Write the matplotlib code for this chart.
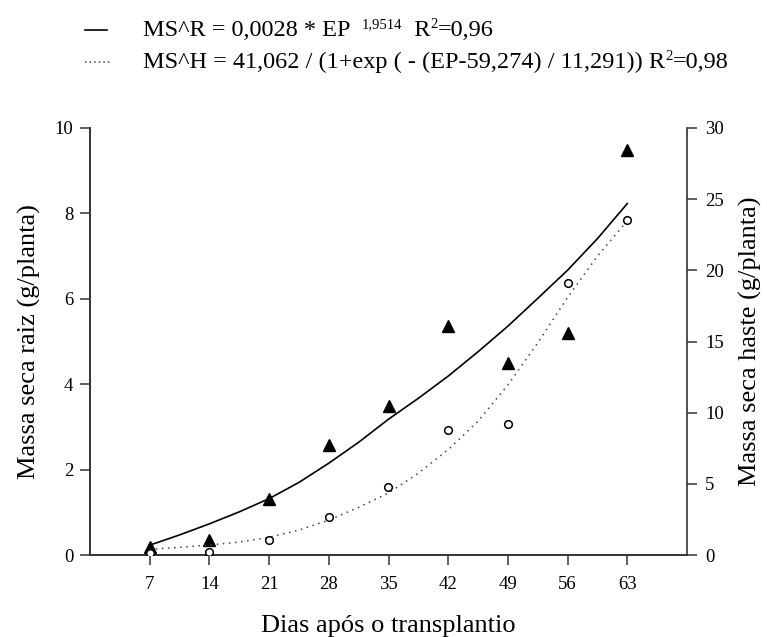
import numpy as np
import matplotlib.pyplot as plt
from matplotlib.lines import Line2D

plt.rcParams['font.family'] = 'Liberation Serif'

dias = [7, 14, 21, 28, 35, 42, 49, 56, 63]

# massa seca raiz (eixo esquerdo) - triangulos
raiz = [0.19, 0.35, 1.32, 2.57, 3.50, 5.37, 4.49, 5.19, 9.48]
# massa seca haste (eixo direito) - circulos
haste = [0.12, 0.23, 1.05, 2.69, 4.79, 8.81, 9.23, 19.14, 23.53]

dias_curva = [7, 10.5, 14, 17.5, 21, 24.5, 28, 31.5, 35, 38.5, 42, 45.5, 49, 52.5, 56, 59.5, 63]
raiz_ajuste = [0.23, 0.47, 0.73, 1.01, 1.32, 1.70, 2.15, 2.64, 3.18, 3.67, 4.19,
               4.76, 5.36, 6.01, 6.67, 7.41, 8.23]
haste_ajuste = [0.40, 0.54, 0.70, 0.91, 1.24, 1.75, 2.45, 3.35, 4.35, 5.75, 7.40,
                9.40, 11.95, 14.90, 18.10, 21.00, 23.48]

fig = plt.figure(figsize=(7.67, 6.37), dpi=100)
ax = fig.add_axes([90/767, 1 - 555/637, (687-90)/767, (555-128)/637])
ax2 = ax.twinx()

ax.plot(dias_curva, raiz_ajuste, color='black', lw=1.2, zorder=3)
ax.plot(dias, raiz, linestyle='none', marker='^', color='black', ms=9, zorder=4)
ax2.plot(dias_curva, haste_ajuste, color='#444444', lw=1.1, linestyle=(0, (1, 3)), zorder=3)
ax2.plot(dias, haste, linestyle='none', marker='o', mfc='white', mec='black',
         mew=1.1, ms=5.5, zorder=5)

ax.set_xlim(0, 70)
ax.set_ylim(0, 10)
ax2.set_ylim(0, 30)
ax.set_xticks(dias)
ax.set_yticks([0, 2, 4, 6, 8, 10])
ax2.set_yticks([0, 5, 10, 15, 20, 25, 30])

for a in (ax, ax2):
    a.spines['top'].set_visible(False)
    for s in a.spines.values():
        s.set_color('#333333')
        s.set_linewidth(1.2)
    a.tick_params(direction='out', length=7, width=1.1, color='#333333', labelsize=13.5)
ax.spines['right'].set_visible(False)
ax.tick_params(axis='x', pad=8)
ax.tick_params(axis='y', pad=5)
ax2.tick_params(axis='y', pad=6)

ax.set_xlabel('Dias após o transplantio', fontsize=19, labelpad=16)
ax.set_ylabel('Massa seca raiz (g/planta)', fontsize=19, labelpad=10)
ax2.set_ylabel('Massa seca haste (g/planta)', fontsize=19, labelpad=11)

# legenda com as equacoes, montada em partes (texto + expoentes)
renderer = fig.canvas.get_renderer()


def texto_em_partes(x, y, partes):
    for s, tam, dy in partes:
        t = fig.text(x / 767, 1 - (y - dy) / 637, s, fontsize=tam, va='baseline', ha='left')
        x += t.get_window_extent(renderer).width


fig.add_artist(Line2D([85/767, 107/767], [1 - 30/637, 1 - 30/637], color='black', lw=1.2))
fig.add_artist(Line2D([85/767, 110/767], [1 - 62/637, 1 - 62/637], color='#444444', lw=1.1,
                      linestyle=(0, (1, 2))))
texto_em_partes(143, 36, [('MS^R = 0,0028 * EP  ', 17.5, 0), ('1,9514', 10.5, 8),
                          ('  R', 17.5, 0), ('2', 10.5, 8), ('=0,96', 17.5, 0)])
texto_em_partes(143, 68, [('MS^H = 41,062 / (1+exp ( - (EP-59,274) / 11,291)) R', 17.5, 0),
                          ('2', 10.5, 8), ('=0,98', 17.5, 0)])

fig.savefig('out.png', dpi=100)
